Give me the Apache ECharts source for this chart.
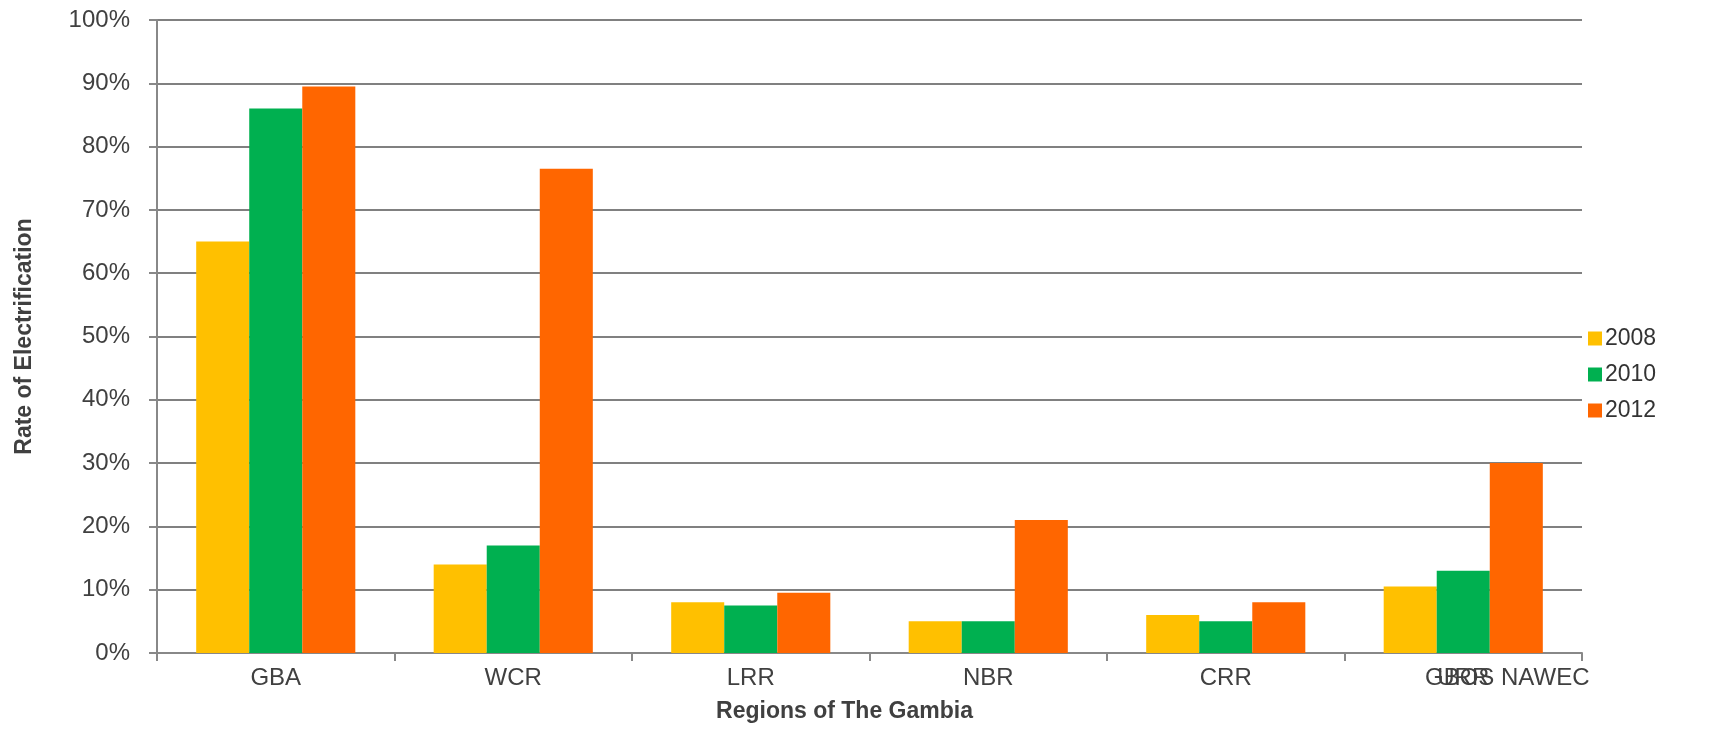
<!DOCTYPE html>
<html><head><meta charset="utf-8">
<script src="https://cdn.jsdelivr.net/npm/echarts@6/dist/echarts.min.js"></script>
<style>html,body{margin:0;padding:0;background:#fff}#c{width:1723px;height:732px}</style>
</head><body><div id="c"></div>
<script>
const categories = ['GBA', 'WCR', 'LRR', 'NBR', 'CRR', 'URR'];
const overlayLabels = ['', '', '', '', '', 'GBOS NAWEC'];
const years = ['2008', '2010', '2012'];
const s2008 = [65, 14, 8, 5, 6, 10.5];
const s2010 = [86, 17, 7.5, 5, 5, 13];
const s2012 = [89.5, 76.5, 9.5, 21, 8, 30];
const yTicks = [0, 10, 20, 30, 40, 50, 60, 70, 80, 90, 100];
const colors = ['#FFC000', '#00B050', '#FF6600'];
const font = 'Liberation Sans, Arial, sans-serif';

const chart = echarts.init(document.getElementById('c'));
chart.setOption({
  animation: false,
  color: colors,
  textStyle: { fontFamily: font },
  grid: { left: 157, right: 141, top: 20, bottom: 79, containLabel: false },
  legend: {
    orient: 'vertical', left: 1583, top: 322,
    itemWidth: 14, itemHeight: 14, itemGap: 13,
    icon: 'rect',
    textStyle: { fontSize: 23, color: '#333', fontFamily: font, padding: [0, 0, 0, -2] },
    data: years
  },
  xAxis: [{
    type: 'category', data: categories,
    axisLine: { lineStyle: { color: '#888', width: 2 } },
    axisTick: { show: true, length: 8, lineStyle: { color: '#888', width: 2 } },
    axisLabel: { fontSize: 24, color: '#404040', margin: 13, fontFamily: font },
    name: 'Regions of The Gambia', nameLocation: 'middle', nameGap: 47,
    nameTextStyle: { fontSize: 23, fontWeight: 'bold', color: '#404040', fontFamily: font,
      padding: [0, 50, 0, 0] }
  }, {
    type: 'category', data: categories, position: 'bottom',
    axisLine: { show: false }, axisTick: { show: false },
    axisLabel: { fontSize: 24, color: '#404040', margin: 13, fontFamily: font,
      padding: [0, 0, 0, 88],
      formatter: (v, i) => overlayLabels[i] },
    splitLine: { show: false }
  }],
  yAxis: {
    type: 'value', min: 0, max: 100, interval: 10,
    axisLine: { show: true, lineStyle: { color: '#888', width: 2 } },
    axisTick: { show: true, length: 8, lineStyle: { color: '#888', width: 2 } },
    splitLine: { lineStyle: { color: '#808080', width: 2 } },
    axisLabel: { fontSize: 24, color: '#404040', margin: 27, fontFamily: font,
      formatter: v => yTicks.includes(v) ? v + '%' : '' },
    name: 'Rate of Electrification', nameLocation: 'middle', nameGap: 121,
    nameTextStyle: { fontSize: 23, fontWeight: 'bold', color: '#404040', fontFamily: font }
  },
  series: [
    { name: years[0], type: 'bar', data: s2008, barGap: '0%', barCategoryGap: '33%' },
    { name: years[1], type: 'bar', data: s2010, barGap: '0%', barCategoryGap: '33%' },
    { name: years[2], type: 'bar', data: s2012, barGap: '0%', barCategoryGap: '33%' }
  ]
});
</script></body></html>
